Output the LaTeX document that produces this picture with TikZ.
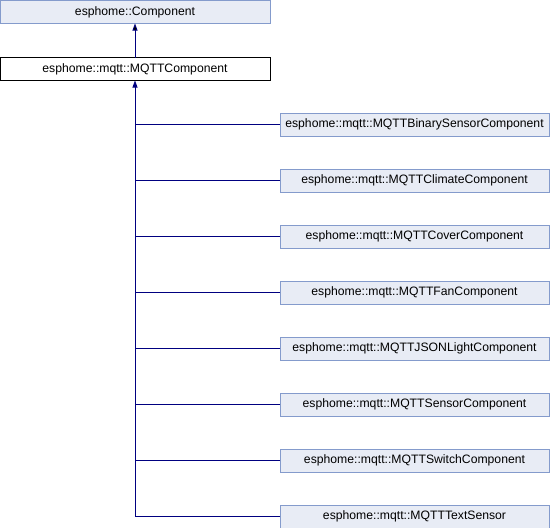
\documentclass[tikz,border=0pt]{standalone}
\usepackage{fontspec}
\setmainfont{Liberation Sans}
\usetikzlibrary{positioning,arrows.meta}
\definecolor{boxfill}{RGB}{232,236,245}
\definecolor{boxline}{RGB}{132,155,204}
\definecolor{linkblue}{RGB}{0,0,128}
\begin{document}
\begin{tikzpicture}[x=1pt,y=1pt,font=\fontsize{12.2}{14}\selectfont,
  base node/.style={draw=boxline,fill=boxfill,line width=0.8pt,minimum width=270pt,minimum height=23pt,inner sep=0pt,outer sep=0pt},
  main node/.style={base node,draw=black,fill=white},
  child node/.style={base node,minimum width=269pt},
  inherit/.style={draw=linkblue,line width=0.8pt},
  up arrow/.style={inherit,-{Triangle[length=7pt,width=5pt]}}]

  \useasboundingbox (0,0) rectangle (550,-528);

  \node[base node] (comp) at (135,-12) {esphome::Component};
  \node[main node] (mqtt) [below=34pt of comp] {esphome::mqtt::MQTTComponent};

  \node[child node] (binary) at (414.5,-124.5) {esphome::mqtt::MQTTBinarySensorComponent};
  \node[child node] (climate) [below=33pt of binary] {esphome::mqtt::MQTTClimateComponent};
  \node[child node] (cover) [below=33pt of climate] {esphome::mqtt::MQTTCoverComponent};
  \node[child node] (fan) [below=33pt of cover] {esphome::mqtt::MQTTFanComponent};
  \node[child node] (json) [below=33pt of fan] {esphome::mqtt::MQTTJSONLightComponent};
  \node[child node] (sensor) [below=33pt of json] {esphome::mqtt::MQTTSensorComponent};
  \node[child node] (switch) [below=33pt of sensor] {esphome::mqtt::MQTTSwitchComponent};
  \node[child node] (text) [below=33pt of switch] {esphome::mqtt::MQTTTextSensor};

  \coordinate (j1) at (binary.west -| mqtt.south);
  \coordinate (j2) at (climate.west -| mqtt.south);
  \coordinate (j3) at (cover.west -| mqtt.south);
  \coordinate (j4) at (fan.west -| mqtt.south);
  \coordinate (j5) at (json.west -| mqtt.south);
  \coordinate (j6) at (sensor.west -| mqtt.south);
  \coordinate (j7) at (switch.west -| mqtt.south);
  \coordinate (j8) at (text.west -| mqtt.south);

  \path[up arrow] (mqtt) edge (comp);
  \draw[up arrow] (j8) -- (mqtt.south);

  \path[inherit]
  (binary.west)  edge (j1)
  (climate.west) edge (j2)
  (cover.west)   edge (j3)
  (fan.west)     edge (j4)
  (json.west)    edge (j5)
  (sensor.west)  edge (j6)
  (switch.west)  edge (j7)
  (text.west)    edge (j8);
\end{tikzpicture}
\end{document}
